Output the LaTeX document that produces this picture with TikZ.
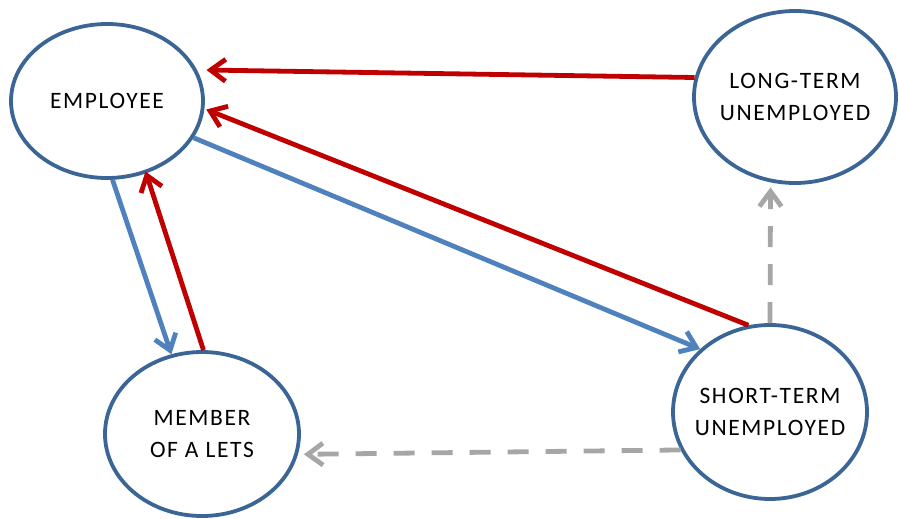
\documentclass[tikz,border=0pt]{standalone}
\usepackage{fontspec}
\setmainfont[LetterSpace=7]{Carlito}
\usetikzlibrary{shapes.geometric,arrows.meta}
\definecolor{ringblue}{HTML}{3B6595}
\definecolor{flowblue}{HTML}{4F81BD}
\definecolor{flowred}{HTML}{C00000}
\definecolor{flowgray}{HTML}{A6A6A6}
\begin{document}
\begin{tikzpicture}[x=1pt,y=-1pt,
  state/.style={ellipse,draw=ringblue,line width=3.8pt,fill=white,inner sep=-25pt,align=center,
    font=\fontsize{23.5}{32}\selectfont},
  back/.style={flowred,line width=4.8pt,-{Straight Barb[length=15pt,width=22pt]}},
  leave/.style={flowblue,line width=4.8pt,-{Straight Barb[length=15pt,width=22pt]}},
  drift/.style={flowgray,line width=4.8pt,dash pattern=on 21pt off 17pt,-{Straight Barb[length=15pt,width=22pt]}}]
\path[use as bounding box] (0,0) rectangle (899,519);
\node[state,minimum width=192pt,minimum height=154pt] (emp) at (107,101) {EMPLOYEE};
\node[state,minimum width=202pt,minimum height=172pt] (lt) at (795,97) {LONG-TERM\\UNEMPLOYED};
\node[state,minimum width=194pt,minimum height=164pt] (mem) at (202,434) {MEMBER\\OF A LETS};
\node[state,minimum width=194pt,minimum height=174pt] (st) at (770,412) {SHORT-TERM\\UNEMPLOYED};

\draw[back] (lt.169) -- ([xshift=8pt,yshift=3pt]emp.17);
\draw[back] (st.104) -- ([xshift=2pt]emp.-5);
\draw[back] (mem.89) -- ([yshift=2pt]emp.-62);
\draw[leave] (emp.-23) -- (st.138);
\draw[leave] (emp.-86) -- (mem.111);
\draw[drift,shorten >=5pt] (st.90) -- (lt.-106);
\draw[drift,shorten >=6pt] (st.-157) -- (mem.-12);
\end{tikzpicture}
\end{document}
